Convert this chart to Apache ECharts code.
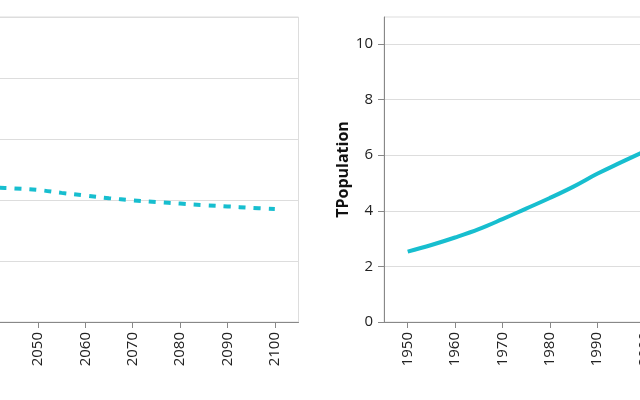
<!DOCTYPE html>
<html>
<head>
<meta charset="utf-8">
<script src="https://cdn.jsdelivr.net/npm/echarts@6/dist/echarts.min.js"></script>
<style>
html,body{margin:0;padding:0;background:#fff;}
#chart{width:640px;height:400px;}
</style>
</head>
<body>
<div id="chart"></div>
<script>
// Left panel: fertility rate projection (dashed)
const fertYears = [2020, 2025, 2030, 2035, 2040, 2045, 2050, 2055, 2060, 2065, 2070, 2075, 2080, 2085, 2090, 2095, 2100];
const fertValues = [2.47, 2.40, 2.33, 2.27, 2.21, 2.19, 2.165, 2.117, 2.073, 2.03, 1.995, 1.967, 1.941, 1.916, 1.895, 1.871, 1.852];
// Right panel: total population (billions), historical (solid)
const popYears = [1950, 1955, 1960, 1965, 1970, 1975, 1980, 1985, 1990, 1995, 2000, 2005, 2010, 2015, 2020];
const popValues = [2.53, 2.77, 3.04, 3.34, 3.70, 4.08, 4.46, 4.87, 5.33, 5.74, 6.14, 6.54, 6.96, 7.38, 7.79];
// Tick labels
const xTicks = [1950, 1960, 1970, 1980, 1990, 2000, 2010, 2020, 2030, 2040, 2050, 2060, 2070, 2080, 2090, 2100];
const popTicks = [0, 2, 4, 6, 8, 10];
const fertTicks = [0, 1, 2, 3, 4, 5];

const color = '#17becf';
const font = 'Open Sans';

function xAxis(gridIndex) {
  return {
    type: 'value', gridIndex, min: 1945, max: 2105,
    axisLine: { show: true, lineStyle: { color: '#888', width: 1 } },
    axisTick: { show: true, length: 6, lineStyle: { color: '#888' }, customValues: xTicks },
    axisLabel: { rotate: 90, margin: 10, fontSize: 15, fontFamily: font, color: '#222', customValues: xTicks, formatter: v => String(v) },
    splitLine: { show: false }
  };
}

const option = {
  animation: false,
  grid: [
    { left: -459.5, top: 17, width: 758, height: 305, outerBoundsMode: 'none', containLabel: false, show: true, borderColor: '#ddd', borderWidth: 1, backgroundColor: 'transparent' },
    { left: 384, top: 17, width: 758, height: 305, outerBoundsMode: 'none', containLabel: false, show: true, borderColor: '#ddd', borderWidth: 1, backgroundColor: 'transparent' }
  ],
  xAxis: [xAxis(0), xAxis(1)],
  yAxis: [
    {
      type: 'value', gridIndex: 0, min: 0, max: 5, interval: 1,
      axisLine: { show: true, lineStyle: { color: '#888' } },
      axisTick: { show: true, length: 6, lineStyle: { color: '#888' }, customValues: fertTicks },
      axisLabel: { fontSize: 15, fontFamily: font, color: '#222', customValues: fertTicks },
      splitLine: { show: true, lineStyle: { color: '#ddd', width: 1 } }
    },
    {
      type: 'value', gridIndex: 1, min: 0, max: 10.97, interval: 2,
      name: 'TPopulation', nameLocation: 'middle', nameGap: 33, nameMoveOverlap: false,
      nameTextStyle: { fontSize: 16, fontWeight: 'bold', fontFamily: font, color: '#111' },
      axisLine: { show: true, lineStyle: { color: '#888' } },
      axisTick: { show: true, length: 6, lineStyle: { color: '#888' }, customValues: popTicks },
      axisLabel: { margin: 11, fontSize: 15, fontFamily: font, color: '#222', customValues: popTicks, formatter: v => String(v) },
      splitLine: { show: true, lineStyle: { color: '#ddd', width: 1 } }
    }
  ],
  series: [
    {
      type: 'line', xAxisIndex: 0, yAxisIndex: 0,
      data: fertYears.map((y, i) => [y, fertValues[i]]),
      showSymbol: false, smooth: 0.4,
      lineStyle: { color, width: 4, type: [7, 8], cap: 'butt' }
    },
    {
      type: 'line', xAxisIndex: 1, yAxisIndex: 1,
      data: popYears.map((y, i) => [y, popValues[i]]),
      showSymbol: false, smooth: 0.4,
      lineStyle: { color, width: 4 }
    }
  ]
};

const chart = echarts.init(document.getElementById('chart'), null, { renderer: 'canvas' });
chart.setOption(option);
</script>
</body>
</html>
